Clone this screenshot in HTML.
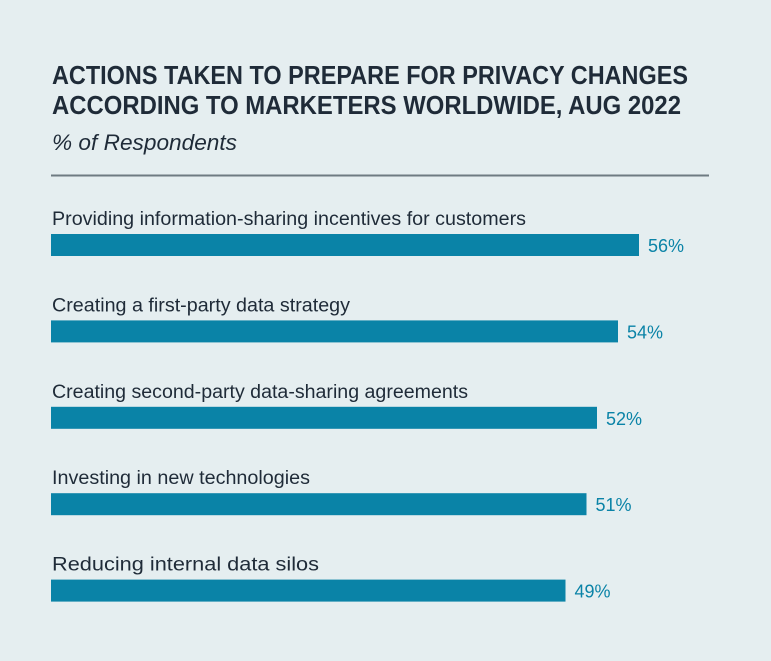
<!DOCTYPE html>
<html><head><meta charset="utf-8"><style>
html,body{margin:0;padding:0;background:#e5eef0;}
svg{display:block}
</style></head><body>
<svg id="chart" width="771" height="661" xmlns="http://www.w3.org/2000/svg">
<rect width="771" height="661" fill="#e5eef0"/>
<text x="52" y="84" font-family="Liberation Sans, sans-serif" font-weight="bold" font-size="26" fill="#1f2b38" textLength="636" lengthAdjust="spacingAndGlyphs">ACTIONS TAKEN TO PREPARE FOR PRIVACY CHANGES</text>
<text x="52" y="114" font-family="Liberation Sans, sans-serif" font-weight="bold" font-size="26" fill="#1f2b38" textLength="629" lengthAdjust="spacingAndGlyphs">ACCORDING TO MARKETERS WORLDWIDE, AUG 2022</text>
<text x="52" y="150" font-family="Liberation Sans, sans-serif" font-style="italic" font-size="22" fill="#1f2b38" textLength="185" lengthAdjust="spacingAndGlyphs">% of Respondents</text>
<line x1="51" y1="175.5" x2="709" y2="175.5" stroke="#6e7b82" stroke-width="2"/>
<g id="bars"></g>
</svg>
<script>
const categories = ["Providing information-sharing incentives for customers","Creating a first-party data strategy","Creating second-party data-sharing agreements","Investing in new technologies","Reducing internal data silos"];
const values = [56,54,52,51,49];
const valueLabels = ["56%","54%","52%","51%","49%"];
const labelWidths = [474,298,416,258,267];
const x = v => 51 + v * 10.5;
const y = i => 234 + i * 86.4;
const NS = "http://www.w3.org/2000/svg";
const g = document.getElementById("bars");
categories.forEach((c, i) => {
  const t = document.createElementNS(NS, "text");
  t.setAttribute("x", 52); t.setAttribute("y", y(i) - 9);
  t.setAttribute("font-family", "Liberation Sans, sans-serif");
  t.setAttribute("font-size", "19"); t.setAttribute("fill", "#1f2b38");
  t.setAttribute("textLength", labelWidths[i]); t.setAttribute("lengthAdjust", "spacingAndGlyphs");
  t.textContent = c;
  
  
  g.appendChild(t);
  const r = document.createElementNS(NS, "rect");
  r.setAttribute("x", 51); r.setAttribute("y", y(i));
  r.setAttribute("width", x(values[i]) - 51); r.setAttribute("height", 22);
  r.setAttribute("fill", "#0a83a7");
  
  
  g.appendChild(r);
  const v = document.createElementNS(NS, "text");
  v.setAttribute("x", x(values[i]) + 9); v.setAttribute("y", y(i) + 18);
  v.setAttribute("font-family", "Liberation Sans, sans-serif");
  v.setAttribute("font-size", "18"); v.setAttribute("fill", "#0a83a7");
  v.textContent = valueLabels[i];
  
  
  g.appendChild(v);
});
</script>
</body></html>
